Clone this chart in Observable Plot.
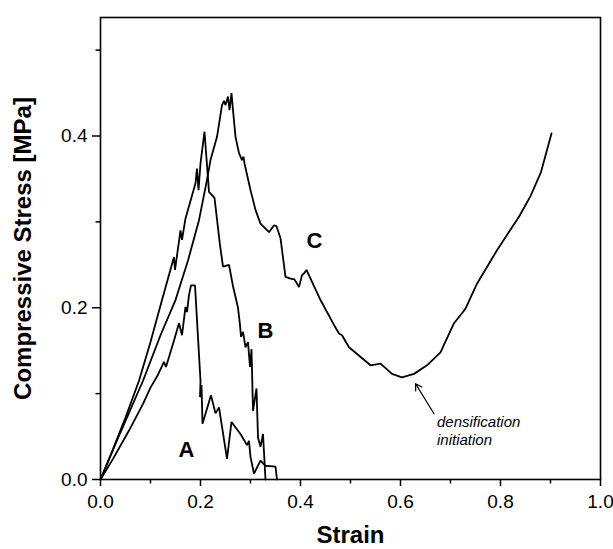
<!DOCTYPE html>
<html>
<head>
<meta charset="utf-8">
<script src="https://cdn.jsdelivr.net/npm/d3@7"></script>
<script src="https://cdn.jsdelivr.net/npm/@observablehq/plot@0.6"></script>
<style>
  html, body { margin: 0; padding: 0; background: #fff; }
  svg { font-family: "Liberation Sans", Arial, sans-serif; }
  g[aria-label="x-axis label"] text, g[aria-label="y-axis label"] text { font-weight: bold; font-size: 24px; }
</style>
</head>
<body>
<div id="chart"></div>
<script>
// Curve A
const curveA = [
  [0,0],[0.025,0.024],[0.057,0.057],[0.085,0.088],[0.1,0.107],[0.115,0.122],[0.127,0.137],[0.131,0.131],
  [0.147,0.162],[0.157,0.182],[0.163,0.168],[0.17,0.201],[0.173,0.195],[0.177,0.215],[0.181,0.226],[0.189,0.226],
  [0.2,0.115],[0.199,0.096],[0.202,0.110],[0.204,0.065],[0.221,0.098],[0.23,0.077],[0.237,0.084],[0.253,0.024],
  [0.262,0.067],[0.28,0.053],[0.293,0.040],[0.297,0.045],[0.3,0.026],[0.307,0.007],[0.32,0.022],[0.33,0.016],
  [0.35,0.015],[0.353,0]
];
// Curve B
const curveB = [
  [0,0],[0.02,0.028],[0.05,0.072],[0.077,0.115],[0.1,0.16],[0.123,0.209],[0.147,0.259],[0.149,0.244],
  [0.16,0.29],[0.163,0.279],[0.17,0.304],[0.19,0.345],[0.193,0.362],[0.196,0.337],[0.2,0.368],[0.208,0.405],
  [0.217,0.335],[0.228,0.328],[0.239,0.273],[0.245,0.248],[0.257,0.25],[0.265,0.225],[0.275,0.2],[0.279,0.18],
  [0.281,0.166],[0.285,0.172],[0.29,0.154],[0.295,0.16],[0.299,0.131],[0.302,0.152],[0.305,0.08],[0.312,0.106],
  [0.315,0.049],[0.32,0.038],[0.325,0.053],[0.33,0]
];
// Curve C
const curveC = [
  [0,0],[0.04,0.055],[0.085,0.115],[0.12,0.168],[0.15,0.209],[0.175,0.255],[0.197,0.302],[0.213,0.349],
  [0.22,0.372],[0.233,0.399],[0.243,0.436],[0.247,0.441],[0.25,0.436],[0.255,0.446],[0.258,0.43],[0.262,0.45],
  [0.265,0.43],[0.27,0.399],[0.277,0.38],[0.283,0.372],[0.286,0.376],[0.288,0.368],[0.3,0.337],[0.31,0.314],
  [0.32,0.298],[0.337,0.288],[0.347,0.296],[0.352,0.295],[0.36,0.281],[0.37,0.236],[0.38,0.234],[0.388,0.233],
  [0.397,0.224],[0.403,0.238],[0.407,0.24],[0.412,0.244],[0.44,0.209],[0.467,0.18],[0.477,0.17],[0.483,0.168],
  [0.497,0.154],[0.54,0.133],[0.56,0.135],[0.583,0.123],[0.603,0.119],[0.627,0.123],[0.653,0.133],[0.68,0.148],
  [0.707,0.182],[0.725,0.195],[0.73,0.199],[0.753,0.228],[0.793,0.267],[0.837,0.306],[0.86,0.33],[0.881,0.358],
  [0.902,0.403]
];
const curveLabels = [
  {x: 0.172, y: 0.034, t: "A"},
  {x: 0.33, y: 0.173, t: "B"},
  {x: 0.428, y: 0.278, t: "C"}
];
const annotation = [
  {x: 0.673, y: 0.067, t: "densification"},
  {x: 0.673, y: 0.0455, t: "initiation"}
];
const arrowData = [{x1: 0.667, y1: 0.0766, x2: 0.63, y2: 0.1116}];
const xMajor = [0, 0.2, 0.4, 0.6, 0.8, 1.0];
const xMinor = [0.1, 0.3, 0.5, 0.7, 0.9];
const yMajor = [0, 0.2, 0.4];
const yMinor = [0.1, 0.3, 0.5];

const toRows = (arr, name) => arr.map(([x, y]) => ({x, y, name}));
const rows = [...toRows(curveA, "A"), ...toRows(curveB, "B"), ...toRows(curveC, "C")];

const chart = Plot.plot({
  width: 613,
  height: 549,
  marginLeft: 100,
  marginRight: 13,
  marginTop: 17,
  marginBottom: 70,
  style: {fontFamily: "'Liberation Sans', Arial, sans-serif", fontSize: "19px", color: "#000", background: "#fff"},
  x: {domain: [0, 1]},
  y: {domain: [0, 0.538]},
  marks: [
    Plot.axisX({ticks: xMajor, tickSize: 7, tickPadding: 8, tickFormat: d3.format(".1f"), fontSize: 19,
      label: "Strain", labelAnchor: "center", labelArrow: "none", labelOffset: 63, strokeWidth: 1.5}),
    Plot.axisX({ticks: xMinor, tickSize: 4.5, text: null, label: null, strokeWidth: 1.5}),
    Plot.axisY({ticks: yMajor, tickSize: 8, tickPadding: 5, tickFormat: d3.format(".1f"), fontSize: 19,
      label: "Compressive Stress [MPa]", labelAnchor: "center", labelArrow: "none", labelOffset: 87, strokeWidth: 1.5}),
    Plot.axisY({ticks: yMinor, tickSize: 4.5, text: null, label: null, strokeWidth: 1.5}),
    Plot.frame({stroke: "#000", strokeWidth: 1.6}),
    Plot.line(rows, {x: "x", y: "y", z: "name", stroke: "#000", strokeWidth: 1.8, strokeLinejoin: "miter"}),
    Plot.text(curveLabels, {x: "x", y: "y", text: "t", fontSize: 22, fontWeight: "bold", fill: "#000"}),
    Plot.text(annotation, {x: "x", y: "y", text: "t", fontSize: 15, fontStyle: "italic", textAnchor: "start", fill: "#000"}),
    Plot.arrow(arrowData, {x1: "x1", y1: "y1", x2: "x2", y2: "y2", stroke: "#000", strokeWidth: 1.2, headLength: 9})
  ]
});
document.getElementById("chart").appendChild(chart);
</script>
</body>
</html>
